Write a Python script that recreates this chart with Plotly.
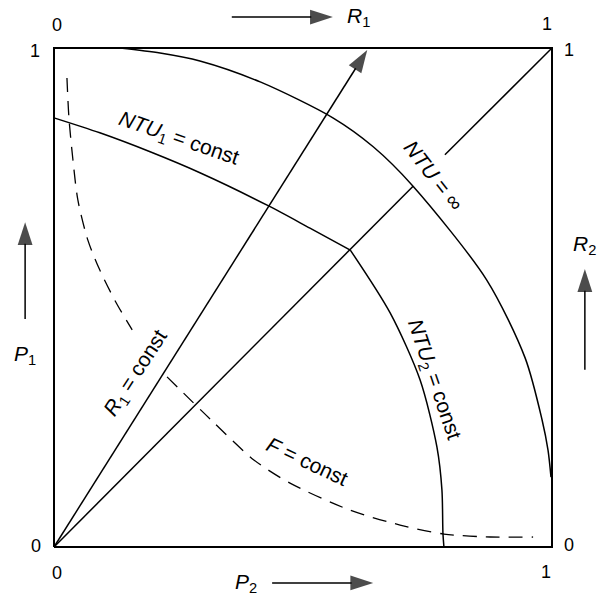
import plotly.graph_objects as go

# Curves of the P1-P2 heat-exchanger diagram (P2 horizontal, P1 vertical)
ntu1_p2 = [0.0, 0.092, 0.193, 0.293, 0.432, 0.514, 0.595]
ntu1_p1 = [0.860, 0.830, 0.792, 0.750, 0.683, 0.639, 0.595]

ntu2_p2 = [0.595, 0.675, 0.735, 0.769, 0.779, 0.781, 0.783]
ntu2_p1 = [0.595, 0.469, 0.335, 0.200, 0.114, 0.028, 0.0]

ntuinf_p2 = [0.133, 0.213, 0.293, 0.414, 0.560, 0.641, 0.721, 0.869, 0.946, 0.980, 0.992, 0.998]
ntuinf_p1 = [1.000, 0.990, 0.974, 0.932, 0.860, 0.802, 0.723, 0.535, 0.379, 0.255, 0.194, 0.140]

# F = const (dashed), split where the R1 label interrupts it
f_a_p2 = [0.026, 0.030, 0.038, 0.048, 0.068, 0.092, 0.124, 0.157]
f_a_p1 = [0.940, 0.860, 0.776, 0.695, 0.615, 0.555, 0.491, 0.435]
f_b_p2 = [0.227, 0.315, 0.402, 0.474, 0.594, 0.695, 0.783, 0.876, 0.962]
f_b_p1 = [0.341, 0.255, 0.174, 0.128, 0.074, 0.044, 0.026, 0.020, 0.020]

# Diagonal P1 = P2 (broken where the NTU = inf label sits)
diag_p2 = [0.0, 0.721, None, 0.785, 1.0]
diag_p1 = [0.0, 0.723, None, 0.786, 1.0]

# R1 = const ray
r1_p2 = [0.0, 0.629]
r1_p1 = [0.0, 0.996]

# Frame of the unit square
frame_p2 = [0, 1, 1, 0, 0]
frame_p1 = [0, 0, 1, 1, 0]

# Direction arrows outside the square
p2_arrow_x = [0.438, 0.641]
p2_arrow_y = [-0.072, -0.072]
r1_arrow_x = [0.357, 0.560]
r1_arrow_y = [1.062, 1.062]
p1_arrow_x = [-0.058, -0.058]
p1_arrow_y = [0.457, 0.651]
r2_arrow_x = [1.066, 1.066]
r2_arrow_y = [0.355, 0.557]

# Corner scale labels: (text, x, y)
corner_labels = [
    ("0", 0.006, 1.046), ("1", -0.038, 0.994),
    ("1", 0.990, 1.048), ("1", 1.034, 0.996),
    ("0", -0.036, 0.002), ("0", 0.006, -0.052),
    ("0", 1.034, 0.004), ("1", 0.988, -0.050),
]

FONT = "Liberation Sans"
BLACK = "#000000"

fig = go.Figure()

def curve(x, y, width=1.5, dash=None, smooth=True):
    fig.add_trace(go.Scatter(x=x, y=y, mode="lines",
                             line=dict(color=BLACK, width=width, dash=dash,
                                       shape="spline" if smooth else "linear",
                                       smoothing=0.8),
                             hoverinfo="skip", showlegend=False,
                             connectgaps=False))

def arrow(x, y, size=24):
    fig.add_trace(go.Scatter(x=x, y=y, mode="lines+markers",
                             line=dict(color=BLACK, width=1.5),
                             marker=dict(symbol="arrow", size=[0] * (len(x) - 1) + [size],
                                         angleref="previous", color=BLACK,
                                         line=dict(width=0)),
                             hoverinfo="skip", showlegend=False, cliponaxis=False))

curve(frame_p2, frame_p1, width=2, smooth=False)
curve(ntuinf_p2, ntuinf_p1)
curve(ntu1_p2, ntu1_p1)
curve(ntu2_p2, ntu2_p1)
curve(diag_p2, diag_p1, smooth=False)
curve(f_a_p2, f_a_p1, width=1.3, dash="14px,9px")
curve(f_b_p2, f_b_p1, width=1.3, dash="14px,9px")
arrow(r1_p2, r1_p1)
arrow(p2_arrow_x, p2_arrow_y)
arrow(r1_arrow_x, r1_arrow_y)
arrow(p1_arrow_x, p1_arrow_y)
arrow(r2_arrow_x, r2_arrow_y)

def label(text, x, y, size=21, angle=0):
    fig.add_annotation(x=x, y=y, xref="x", yref="y", text=text, showarrow=False,
                       textangle=angle, xanchor="center", yanchor="middle",
                       font=dict(family=FONT, size=size, color=BLACK))

for t, x, y in corner_labels:
    label(t, x, y, size=18)

label("<i>R</i><sub>1</sub>", 0.612, 1.062)
label("<i>P</i><sub>2</sub>", 0.386, -0.072)
label("<i>P</i><sub>1</sub>", -0.058, 0.385)
label("<i>R</i><sub>2</sub>", 1.066, 0.605)

label("<i>NTU</i><sub>1</sub> = const", 0.251, 0.818, angle=19)
label("<i>NTU</i> = \u221e", 0.763, 0.745, angle=52)
label("<i>NTU</i><sub>2</sub> = const", 0.763, 0.335, angle=71)
label("<i>R</i><sub>1</sub> = const", 0.165, 0.349, angle=-57)
label("<i>F</i> = const", 0.510, 0.172, angle=25)

axis_common = dict(visible=False, showgrid=False, zeroline=False, fixedrange=True)
fig.update_layout(
    width=600, height=596,
    margin=dict(l=0, r=0, t=0, b=0),
    paper_bgcolor="white", plot_bgcolor="white",
    xaxis=dict(range=[-54 / 498, 1 + 48 / 498], domain=[0, 1], **axis_common),
    yaxis=dict(range=[-49 / 499, 1 + 48 / 499], domain=[0, 1], **axis_common),
    showlegend=False,
)

fig.write_html("out.html")
